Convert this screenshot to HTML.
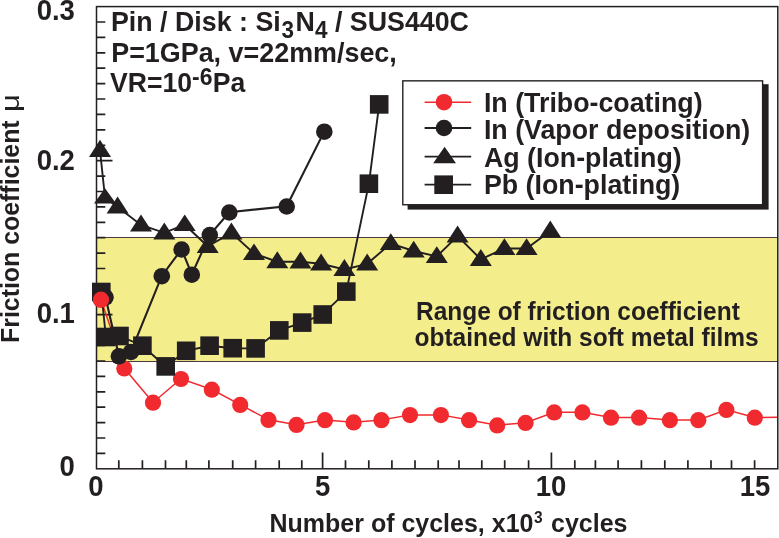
<!DOCTYPE html>
<html lang="en"><head><meta charset="utf-8"><title>Friction coefficient vs number of cycles</title>
<style>html,body{margin:0;padding:0;background:#fff;}body{width:779px;height:538px;overflow:hidden;}svg{display:block;}text{font-family:"Liberation Sans",sans-serif;font-weight:bold;fill:#231f20;}</style>
</head><body>
<svg width="779" height="538" viewBox="0 0 779 538">
<rect width="779" height="538" fill="#ffffff"/>
<rect x="96.5" y="237.0" width="681.3" height="125.0" fill="#f3ee8b"/>
<path d="M96.5 237.5H777.8M96.5 361.5H777.8" stroke="#4e3840" stroke-width="1" fill="none"/>
<g id="axes" stroke="#231f20" stroke-width="1.5" fill="none">
<rect x="96.5" y="6.6" width="681.3" height="462.2"/>
<path d="M118.8 468.8V460.3M142.4 468.8V460.3M165.5 468.8V460.3M186.3 468.8V460.3M208.9 468.8V460.3M232.7 468.8V460.3M255.6 468.8V460.3M279.2 468.8V460.3M301.8 468.8V460.3M345.5 468.8V460.3M368.8 468.8V460.3M391.9 468.8V460.3M415.0 468.8V460.3M438.2 468.8V460.3M459.0 468.8V460.3M481.8 468.8V460.3M504.7 468.8V460.3M528.6 468.8V460.3M574.8 468.8V460.3M595.4 468.8V460.3M618.1 468.8V460.3M641.4 468.8V460.3M664.8 468.8V460.3M687.9 468.8V460.3M711.0 468.8V460.3M731.5 468.8V460.3M754.6 468.8V460.3M322.6 468.8V452.6M551.4 468.8V452.6M96.5 453.4H105.3M96.5 438.0H105.3M96.5 422.6H105.3M96.5 407.2H105.3M96.5 391.8H105.3M96.5 376.4H105.3M96.5 361.0H105.3M96.5 345.5H105.3M96.5 330.1H105.3M96.5 314.7H112.5M96.5 299.3H105.3M96.5 283.9H105.3M96.5 268.5H105.3M96.5 253.1H105.3M96.5 237.7H105.3M96.5 222.3H105.3M96.5 206.9H105.3M96.5 191.5H105.3M96.5 176.1H105.3M96.5 160.7H112.5M96.5 145.3H105.3M96.5 129.9H105.3M96.5 114.4H105.3M96.5 99.0H105.3M96.5 83.6H105.3M96.5 68.2H105.3M96.5 52.8H105.3M96.5 37.4H105.3M96.5 22.0H105.3" stroke-width="1.7"/>
</g>
<g id="red">
<polyline points="101.0,299.5 124.3,368.3 153.0,402.5 181.0,378.8 211.8,389.5 240.2,404.7 268.5,419.7 296.5,424.7 325.0,420.0 353.6,422.2 381.4,420.0 410.0,414.9 440.9,414.9 469.1,420.0 497.2,425.2 525.6,422.7 554.2,412.2 582.4,412.2 611.0,417.5 639.1,417.5 669.9,420.0 698.3,420.0 726.4,409.7 754.8,417.5 777.0,417.3" fill="none" stroke="#f02a2e" stroke-width="1.45"/>
<circle cx="101.0" cy="299.7" r="8.1" fill="#f02a2e"/>
<circle cx="124.3" cy="368.5" r="8.1" fill="#f02a2e"/>
<circle cx="153.0" cy="402.7" r="8.1" fill="#f02a2e"/>
<circle cx="181.0" cy="379.0" r="8.1" fill="#f02a2e"/>
<circle cx="211.8" cy="389.7" r="8.1" fill="#f02a2e"/>
<circle cx="240.2" cy="404.9" r="8.1" fill="#f02a2e"/>
<circle cx="268.5" cy="419.9" r="8.1" fill="#f02a2e"/>
<circle cx="296.5" cy="424.9" r="8.1" fill="#f02a2e"/>
<circle cx="325.0" cy="420.2" r="8.1" fill="#f02a2e"/>
<circle cx="353.6" cy="422.4" r="8.1" fill="#f02a2e"/>
<circle cx="381.4" cy="420.2" r="8.1" fill="#f02a2e"/>
<circle cx="410.0" cy="415.1" r="8.1" fill="#f02a2e"/>
<circle cx="440.9" cy="415.1" r="8.1" fill="#f02a2e"/>
<circle cx="469.1" cy="420.2" r="8.1" fill="#f02a2e"/>
<circle cx="497.2" cy="425.4" r="8.1" fill="#f02a2e"/>
<circle cx="525.6" cy="422.9" r="8.1" fill="#f02a2e"/>
<circle cx="554.2" cy="412.4" r="8.1" fill="#f02a2e"/>
<circle cx="582.4" cy="412.4" r="8.1" fill="#f02a2e"/>
<circle cx="611.0" cy="417.7" r="8.1" fill="#f02a2e"/>
<circle cx="639.1" cy="417.7" r="8.1" fill="#f02a2e"/>
<circle cx="669.9" cy="420.2" r="8.1" fill="#f02a2e"/>
<circle cx="698.3" cy="420.2" r="8.1" fill="#f02a2e"/>
<circle cx="726.4" cy="409.9" r="8.1" fill="#f02a2e"/>
<circle cx="754.8" cy="417.7" r="8.1" fill="#f02a2e"/>
</g>
<g id="pb">
<polyline points="101.3,292.0 105.9,337.0 119.5,336.0 142.4,345.7 165.7,366.4 186.2,350.8 209.6,345.7 232.7,348.2 255.6,348.4 279.3,330.4 302.2,322.6 322.7,314.5 346.3,291.6 368.9,183.7 379.2,104.4" fill="none" stroke="#231f20" stroke-width="1.9"/>
<rect x="92.0" y="282.7" width="18.6" height="18.6" fill="#231f20"/>
<rect x="96.6" y="327.7" width="18.6" height="18.6" fill="#231f20"/>
<rect x="110.2" y="326.7" width="18.6" height="18.6" fill="#231f20"/>
<rect x="133.1" y="336.4" width="18.6" height="18.6" fill="#231f20"/>
<rect x="156.4" y="357.1" width="18.6" height="18.6" fill="#231f20"/>
<rect x="176.9" y="341.5" width="18.6" height="18.6" fill="#231f20"/>
<rect x="200.3" y="336.4" width="18.6" height="18.6" fill="#231f20"/>
<rect x="223.4" y="338.9" width="18.6" height="18.6" fill="#231f20"/>
<rect x="246.3" y="339.1" width="18.6" height="18.6" fill="#231f20"/>
<rect x="270.0" y="321.1" width="18.6" height="18.6" fill="#231f20"/>
<rect x="292.9" y="313.3" width="18.6" height="18.6" fill="#231f20"/>
<rect x="313.4" y="305.2" width="18.6" height="18.6" fill="#231f20"/>
<rect x="337.0" y="282.3" width="18.6" height="18.6" fill="#231f20"/>
<rect x="359.6" y="174.4" width="18.6" height="18.6" fill="#231f20"/>
<rect x="369.9" y="95.1" width="18.6" height="18.6" fill="#231f20"/>
</g>
<g id="ag">
<polyline points="100.0,150.3 105.0,197.6 117.6,206.9 141.0,225.0 164.3,232.8 184.7,224.7 207.7,246.3 231.4,232.8 254.0,253.5 277.3,261.7 300.5,261.8 321.1,263.8 344.4,269.4 367.2,263.8 390.8,243.5 413.7,251.0 436.8,256.4 457.6,236.0 480.8,259.3 504.4,248.5 526.6,248.5 550.3,231.1" fill="none" stroke="#231f20" stroke-width="1.9"/>
<polygon points="100.0,139.8 111.0,157.0 89.0,157.0" fill="#231f20"/>
<polygon points="105.0,188.3 116.0,203.5 94.0,203.5" fill="#231f20"/>
<polygon points="117.6,196.6 128.6,213.5 106.6,213.5" fill="#231f20"/>
<polygon points="141.0,214.6 152.0,231.6 130.0,231.6" fill="#231f20"/>
<polygon points="164.3,222.6 175.3,239.4 153.3,239.4" fill="#231f20"/>
<polygon points="184.7,214.6 195.7,231.1 173.7,231.1" fill="#231f20"/>
<polygon points="207.7,235.9 218.7,252.9 196.7,252.9" fill="#231f20"/>
<polygon points="231.4,222.6 242.4,239.4 220.4,239.4" fill="#231f20"/>
<polygon points="254.0,243.5 265.0,259.9 243.0,259.9" fill="#231f20"/>
<polygon points="277.3,251.3 288.3,268.3 266.3,268.3" fill="#231f20"/>
<polygon points="300.5,251.5 311.5,268.4 289.5,268.4" fill="#231f20"/>
<polygon points="321.1,253.5 332.1,270.4 310.1,270.4" fill="#231f20"/>
<polygon points="344.4,259.0 355.4,276.0 333.4,276.0" fill="#231f20"/>
<polygon points="367.2,253.5 378.2,270.4 356.2,270.4" fill="#231f20"/>
<polygon points="390.8,233.2 401.8,250.1 379.8,250.1" fill="#231f20"/>
<polygon points="413.7,240.7 424.7,257.6 402.7,257.6" fill="#231f20"/>
<polygon points="436.8,246.2 447.8,262.9 425.8,262.9" fill="#231f20"/>
<polygon points="457.6,225.6 468.6,242.6 446.6,242.6" fill="#231f20"/>
<polygon points="480.8,249.0 491.8,265.9 469.8,265.9" fill="#231f20"/>
<polygon points="504.4,238.2 515.4,255.1 493.4,255.1" fill="#231f20"/>
<polygon points="526.6,238.2 537.6,255.1 515.6,255.1" fill="#231f20"/>
<polygon points="550.3,220.6 561.3,237.8 539.3,237.8" fill="#231f20"/>
</g>
<g id="invap">
<polyline points="105.5,297.0 118.9,356.0 131.0,351.7 161.8,275.9 181.6,249.2 191.8,274.4 209.8,234.8 229.3,212.2 286.7,206.2 324.3,131.4" fill="none" stroke="#231f20" stroke-width="2.1"/>
<circle cx="105.5" cy="297.3" r="8.3" fill="#231f20"/>
<circle cx="118.9" cy="356.3" r="8.3" fill="#231f20"/>
<circle cx="131.0" cy="352.0" r="8.3" fill="#231f20"/>
<circle cx="161.8" cy="276.2" r="8.3" fill="#231f20"/>
<circle cx="181.6" cy="249.5" r="8.3" fill="#231f20"/>
<circle cx="191.8" cy="274.7" r="8.3" fill="#231f20"/>
<circle cx="209.8" cy="235.1" r="8.3" fill="#231f20"/>
<circle cx="229.3" cy="212.5" r="8.3" fill="#231f20"/>
<circle cx="286.7" cy="206.5" r="8.3" fill="#231f20"/>
<circle cx="324.3" cy="131.7" r="8.3" fill="#231f20"/>
</g>
<circle cx="101.0" cy="299.7" r="8.1" fill="#f02a2e"/>
<g id="legend">
<rect x="407.6" y="84.2" width="361.0" height="125.4" fill="#231f20"/>
<rect x="402.8" y="80.85" width="359.8" height="123.9" fill="#fff" stroke="#231f20" stroke-width="1.4"/>
<line x1="424.6" x2="471.2" y1="102.2" y2="102.2" stroke="#f02a2e" stroke-width="1.6"/>
<line x1="424.6" x2="471.2" y1="128.0" y2="128.0" stroke="#231f20" stroke-width="1.8"/>
<line x1="424.6" x2="471.2" y1="156.7" y2="156.7" stroke="#231f20" stroke-width="1.8"/>
<line x1="424.6" x2="471.2" y1="184.6" y2="184.6" stroke="#231f20" stroke-width="1.8"/>
<circle cx="444" cy="102.2" r="8.3" fill="#f02a2e"/>
<circle cx="444" cy="128.0" r="8.3" fill="#231f20"/>
<polygon points="444.6,146.8 456,163.2 433.2,163.2" fill="#231f20"/>
<rect x="434.3" y="175.4" width="18.7" height="18.6" fill="#231f20"/>
<text transform="translate(483.9,111.5) scale(1,1.040)" font-size="26.8">In (Tribo-coating)</text>
<text transform="translate(483.9,139.2) scale(1,1.040)" font-size="26.8">In (Vapor deposition)</text>
<text transform="translate(483.9,166.7) scale(1,1.040)" font-size="26.8">Ag (Ion-plating)</text>
<text transform="translate(483.9,194.4) scale(1,1.040)" font-size="26.8">Pb (Ion-plating)</text>
</g>
<g id="note">
<text transform="translate(111.0,31.3) scale(1,1.040)" font-size="26.8">Pin / Disk : Si<tspan font-size="22.5" dy="6" dx="0.8">3</tspan><tspan dy="-6" dx="1.6">N</tspan><tspan font-size="22.5" dy="6">4</tspan><tspan dy="-6"> / SUS440C</tspan></text>
<text transform="translate(111.2,61.5) scale(1,1.040)" font-size="26.9">P=1GPa, v=22mm/sec,</text>
<text transform="translate(110.0,92.0) scale(1,1.040)" font-size="26.6">VR=10<tspan font-size="23" dy="-7">-6</tspan><tspan dy="7" dx="0.3">Pa</tspan></text>
</g>
<text transform="translate(416.0,319.7) scale(1,1.040)" font-size="24.5">Range of friction coefficient</text>
<text transform="translate(414.5,345.5) scale(1,1.040)" font-size="24.5">obtained with soft metal films</text>
<g id="ylabels" text-anchor="end">
<text transform="translate(74.9,19.8) scale(1,1.040)" font-size="27.5">0.3</text>
<text transform="translate(74.9,170.0) scale(1,1.040)" font-size="27.5">0.2</text>
<text transform="translate(74.9,322.6) scale(1,1.040)" font-size="27.5">0.1</text>
<text transform="translate(74.9,475.8) scale(1,1.040)" font-size="27.5">0</text>
</g>
<g id="xlabels" text-anchor="middle">
<text transform="translate(96.0,495.6) scale(1,1.040)" font-size="27.5">0</text>
<text transform="translate(322.6,495.6) scale(1,1.040)" font-size="27.5">5</text>
<text transform="translate(551.0,495.6) scale(1,1.040)" font-size="27.5">10</text>
<text transform="translate(755.0,495.6) scale(1,1.040)" font-size="27.5">15</text>
</g>
<text transform="translate(269.5,531.6) scale(1,1.040)" font-size="25.0">Number of cycles, x10<tspan font-size="15.5" dy="-8.5" dx="0.5">3</tspan><tspan dy="8.5" dx="1.5"> cycles</tspan></text>
<text transform="translate(19.0,343.0) rotate(-90) scale(1,1.040)" font-size="24.9">Friction coefficient</text>
<text transform="translate(19.0,112.0) rotate(-90) scale(1.3,1.04)" font-size="24" font-weight="normal" style="font-weight:normal">μ</text>
</svg>
</body></html>
